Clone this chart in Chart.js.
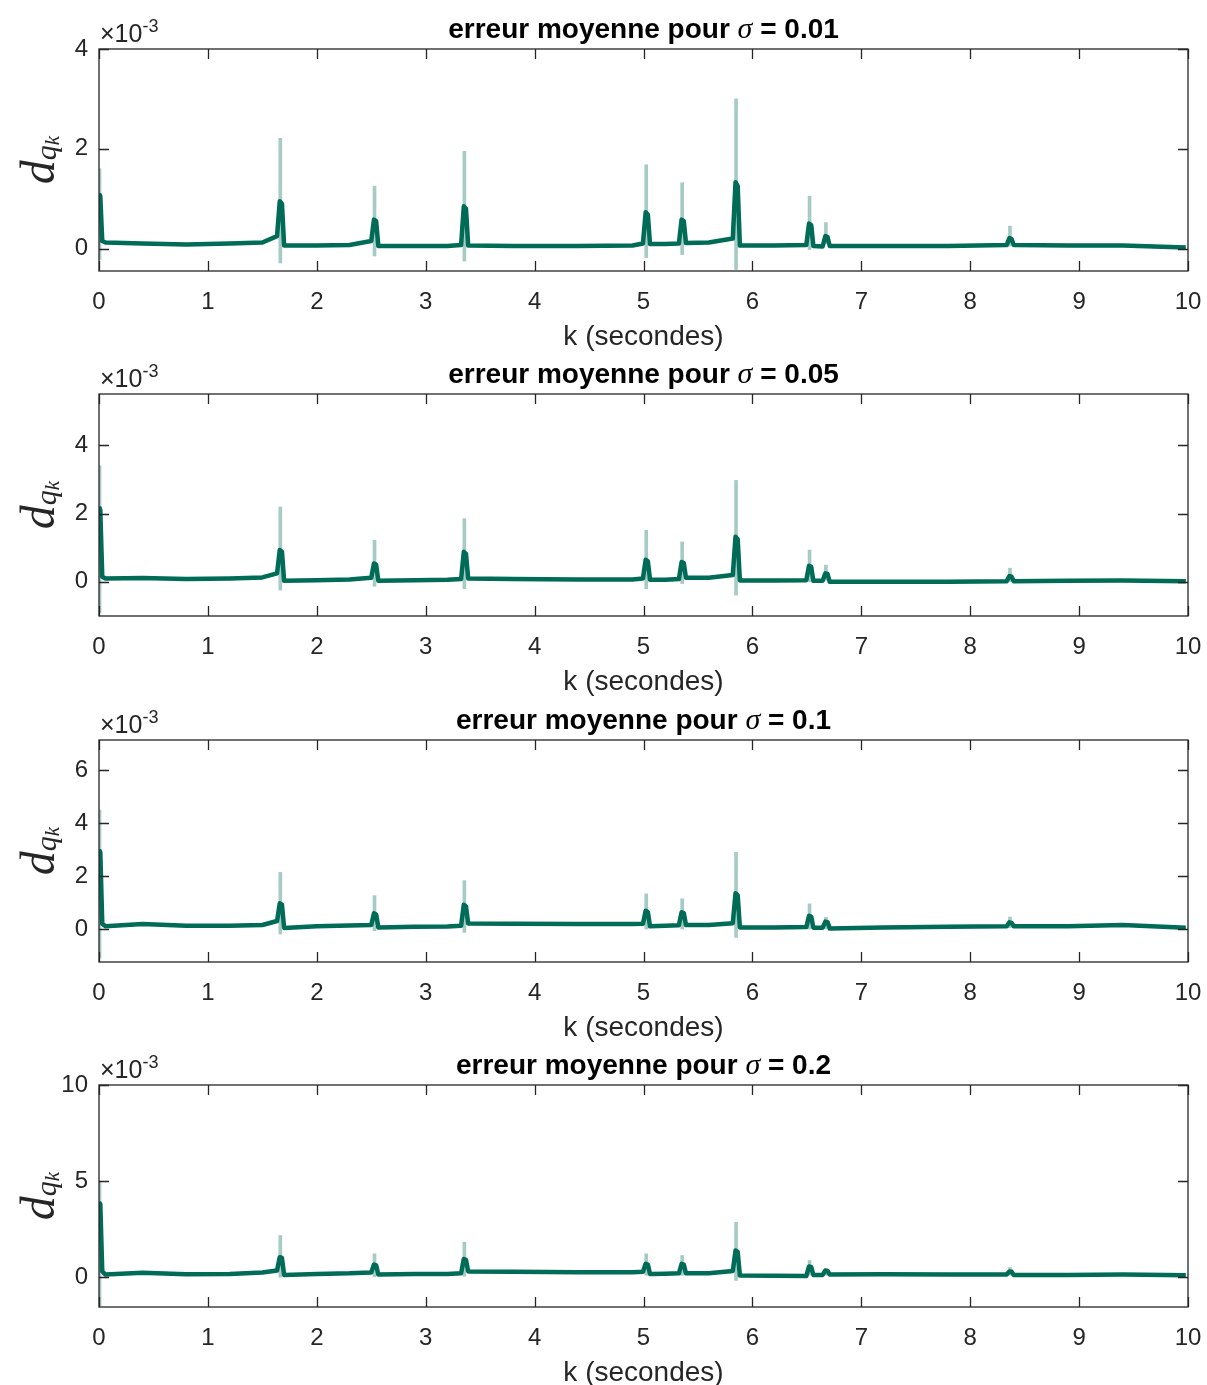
<!DOCTYPE html>
<html>
<head>
<meta charset="utf-8">
<script src="https://cdn.jsdelivr.net/npm/chart.js@4.4.1/dist/chart.umd.min.js"></script>
<style>
  html, body { margin: 0; padding: 0; background: #fff; }
  #page { position: relative; width: 1207px; height: 1385px; overflow: hidden; }
  .panel { position: absolute; left: 0; width: 1207px; }
  canvas { display: block; }
</style>
</head>
<body>
<div id="page">
  <div class="panel" style="top:0;height:362px"><canvas id="c0" width="1207" height="362"></canvas></div>
  <div class="panel" style="top:345px;height:362px"><canvas id="c1" width="1207" height="362"></canvas></div>
  <div class="panel" style="top:691px;height:362px"><canvas id="c2" width="1207" height="362"></canvas></div>
  <div class="panel" style="top:1036px;height:349px"><canvas id="c3" width="1207" height="349"></canvas></div>
</div>
<script>
// ── Data (all values in units of 1e-3) ──────────────────
var K = [0, 0.012, 0.03, 0.06, 0.4, 0.8, 1.2, 1.5,
         1.635, 1.66, 1.68, 1.70, 2.0, 2.3,
         2.50, 2.525, 2.545, 2.565, 2.9, 3.2,
         3.325, 3.35, 3.37, 3.39, 3.8, 4.4, 4.9,
         4.995, 5.02, 5.04, 5.06, 5.2,
         5.325, 5.35, 5.37, 5.39, 5.6,
         5.82, 5.845, 5.865, 5.885, 6.2,
         6.495, 6.52, 6.54, 6.56,
         6.645, 6.67, 6.69, 6.71, 7.2, 7.8,
         8.335, 8.36, 8.38, 8.40, 8.9, 9.4, 9.98];

var mean01 = [1.1, 1.05, 0.15, 0.12, 0.1, 0.08, 0.1, 0.12,
              0.25, 0.95, 0.9, 0.06, 0.06, 0.07,
              0.15, 0.58, 0.55, 0.05, 0.05, 0.05,
              0.07, 0.85, 0.8, 0.06, 0.05, 0.05, 0.06,
              0.1, 0.73, 0.68, 0.09, 0.09,
              0.1, 0.58, 0.55, 0.11, 0.12,
              0.2, 1.33, 1.25, 0.06, 0.06,
              0.07, 0.5, 0.47, 0.05,
              0.04, 0.25, 0.23, 0.05, 0.05, 0.05,
              0.07, 0.21, 0.19, 0.07, 0.06, 0.06, 0.02];

var mean05 = [2.2, 2.1, 0.15, 0.1, 0.11, 0.08, 0.1, 0.13,
              0.25, 0.93, 0.88, 0.03, 0.05, 0.07,
              0.12, 0.54, 0.5, 0.03, 0.05, 0.06,
              0.08, 0.88, 0.82, 0.1, 0.08, 0.07, 0.07,
              0.1, 0.65, 0.6, 0.06, 0.06,
              0.08, 0.58, 0.55, 0.12, 0.12,
              0.2, 1.32, 1.25, 0.04, 0.04,
              0.05, 0.47, 0.44, 0.03,
              0.03, 0.25, 0.23, 0.0, 0.0, 0.0,
              0.02, 0.17, 0.15, 0.02, 0.03, 0.04, 0.02];

var mean10 = [3.0, 2.9, 0.2, 0.1, 0.19, 0.12, 0.12, 0.15,
              0.3, 0.97, 0.92, 0.04, 0.1, 0.13,
              0.15, 0.59, 0.55, 0.06, 0.08, 0.09,
              0.12, 0.92, 0.85, 0.21, 0.2, 0.19, 0.19,
              0.2, 0.69, 0.64, 0.1, 0.12,
              0.14, 0.63, 0.6, 0.15, 0.15,
              0.22, 1.35, 1.28, 0.06, 0.06,
              0.07, 0.5, 0.47, 0.05,
              0.05, 0.28, 0.26, 0.02, 0.06, 0.08,
              0.1, 0.25, 0.23, 0.1, 0.1, 0.15, 0.05];

var mean20 = [3.9, 3.8, 0.3, 0.14, 0.23, 0.15, 0.17, 0.24,
              0.35, 1.04, 1.0, 0.12, 0.17, 0.2,
              0.25, 0.66, 0.62, 0.14, 0.17, 0.17,
              0.2, 0.95, 0.9, 0.3, 0.28, 0.26, 0.26,
              0.28, 0.7, 0.66, 0.17, 0.18,
              0.2, 0.7, 0.66, 0.2, 0.2,
              0.32, 1.39, 1.32, 0.09, 0.07,
              0.06, 0.56, 0.52, 0.12,
              0.12, 0.35, 0.32, 0.14, 0.16, 0.14,
              0.14, 0.3, 0.28, 0.12, 0.12, 0.14, 0.1];

// spread of the runs around each peak (min / max)
var spikeK = [0.005, 1.665, 2.53, 3.355, 5.025, 5.355, 5.85, 6.525, 6.675, 8.365];
var top01 = [1.6, 2.21, 1.25, 1.95, 1.68, 1.32, 3.0, 1.05, 0.52, 0.45];
var low01 = [-0.22, -0.29, -0.15, -0.25, -0.18, -0.12, -0.42, -0.02, 0.1, 0.05];
var top05 = [3.4, 2.19, 1.22, 1.85, 1.51, 1.17, 2.97, 0.93, 0.49, 0.4];
var low05 = [-0.9, -0.24, -0.13, -0.2, -0.2, -0.05, -0.39, 0.0, 0.05, 0.0];
var top10 = [4.5, 2.14, 1.26, 1.83, 1.33, 1.14, 2.9, 0.95, 0.44, 0.45];
var low10 = [-1.1, -0.19, -0.07, -0.13, 0.0, 0.0, -0.32, 0.0, 0.0, 0.05];
var top20 = [5.0, 2.17, 1.22, 1.82, 1.22, 1.13, 2.86, 0.87, 0.44, 0.5];
var low20 = [-1.5, 0.0, 0.02, 0.05, 0.1, 0.1, -0.17, 0.1, 0.1, 0.1];

var sigmaLabels = ['0.01', '0.05', '0.1', '0.2'];
var yMins  = [-0.45, -1, -1.25, -1.55];
var yMaxs  = [4, 5.5, 7.15, 10];
var ySteps = [2, 2, 2, 5];

var means = [mean01, mean05, mean10, mean20];
var tops  = [top01, top05, top10, top20];
var lows  = [low01, low05, low10, low20];

// ── Styles ──────────────────────────────────────────────
var TEAL = '#006b57';
var TEAL_LIGHT = 'rgba(0, 107, 87, 0.35)';
var AXIS = '#262626';
var SANS = '"Liberation Sans", Arial, sans-serif';
var SERIF = '"Liberation Serif", "Times New Roman", serif';
var PLOT_BOTTOM = 271;

Chart.defaults.font.family = SANS;

function decor(idx) {
    return {
        id: 'decor' + idx,
        afterDatasetsDraw: function (chart) {
            var ctx = chart.ctx, a = chart.chartArea;
            var xs = chart.scales.x, ys = chart.scales.y;
            var cx = (a.left + a.right) / 2, cy = (a.top + a.bottom) / 2;
            ctx.save();

            // box + inward ticks on all four sides
            ctx.strokeStyle = AXIS;
            ctx.lineWidth = 1.3;
            ctx.strokeRect(a.left, a.top, a.right - a.left, a.bottom - a.top);
            ctx.beginPath();
            xs.ticks.forEach(function (t) {
                var px = Math.round(xs.getPixelForValue(t.value)) + 0.5;
                ctx.moveTo(px, a.bottom); ctx.lineTo(px, a.bottom - 10);
                ctx.moveTo(px, a.top);    ctx.lineTo(px, a.top + 10);
            });
            ys.ticks.forEach(function (t) {
                var py = Math.round(ys.getPixelForValue(t.value)) + 0.5;
                ctx.moveTo(a.left, py);  ctx.lineTo(a.left + 10, py);
                ctx.moveTo(a.right, py); ctx.lineTo(a.right - 10, py);
            });
            ctx.stroke();

            // title: erreur moyenne pour σ = …
            var parts = [
                { t: 'erreur moyenne pour ', f: 'bold 28px ' + SANS },
                { t: 'σ', f: 'italic 30px ' + SERIF },
                { t: ' = ' + sigmaLabels[idx], f: 'bold 28px ' + SANS }
            ];
            var total = 0;
            parts.forEach(function (p) { ctx.font = p.f; p.w = ctx.measureText(p.t).width; total += p.w; });
            var x = cx - total / 2;
            ctx.fillStyle = '#000';
            ctx.textBaseline = 'alphabetic';
            ctx.textAlign = 'left';
            parts.forEach(function (p) { ctx.font = p.f; ctx.fillText(p.t, x, a.top - 11); x += p.w; });

            // x axis title
            ctx.fillStyle = AXIS;
            ctx.font = '28px ' + SANS;
            ctx.textAlign = 'center';
            ctx.textBaseline = 'middle';
            ctx.fillText('k (secondes)', cx, a.bottom + 66);

            // exponent ×10^-3
            ctx.textAlign = 'left';
            ctx.textBaseline = 'alphabetic';
            ctx.font = '25px ' + SANS;
            ctx.fillText('\u00d710', a.left + 1, a.top - 7);
            var w10 = ctx.measureText('\u00d710').width;
            ctx.font = '18px ' + SANS;
            ctx.fillText('-3', a.left + 1 + w10, a.top - 17);

            // y axis title d_{q_k}
            ctx.translate(54, cy);
            ctx.rotate(-Math.PI / 2);
            var ylab = [
                { t: 'd', f: 'italic 48px ' + SERIF, dy: 0 },
                { t: 'q', f: 'italic 30px ' + SERIF, dy: 2 },
                { t: 'k', f: 'italic 21px ' + SERIF, dy: 5 }
            ];
            var tw = 0;
            ylab.forEach(function (p) { ctx.font = p.f; p.w = ctx.measureText(p.t).width; tw += p.w; });
            var lx = -tw / 2;
            ylab.forEach(function (p) { ctx.font = p.f; ctx.fillText(p.t, lx, p.dy); lx += p.w; });

            ctx.restore();
        }
    };
}

function makePanel(idx) {
    var canvas = document.getElementById('c' + idx);
    var H = canvas.height;
    var lineData = K.map(function (k, i) { return { x: k, y: means[idx][i] }; });
    var spreadData = spikeK.map(function (k, i) { return { x: k, y: [lows[idx][i], tops[idx][i]] }; });

    new Chart(canvas, {
        type: 'line',
        data: {
            datasets: [
                { type: 'bar', data: spreadData, backgroundColor: TEAL_LIGHT, barThickness: 3, order: 2 },
                { type: 'line', data: lineData, borderColor: TEAL, borderWidth: 4.5, pointRadius: 0,
                  tension: 0, borderJoinStyle: 'round', order: 1 }
            ]
        },
        options: {
            responsive: false,
            animation: false,
            layout: { padding: { top: 49, right: 19, left: 0, bottom: 0 } },
            plugins: { legend: { display: false }, tooltip: { enabled: false } },
            scales: {
                x: {
                    type: 'linear', min: 0, max: 10, offset: false,
                    grid: { display: false }, border: { display: false },
                    ticks: { stepSize: 1, padding: 9, color: AXIS, font: { size: 24 }, maxRotation: 0, autoSkip: false },
                    afterFit: function (s) { s.height = H - PLOT_BOTTOM; s.paddingLeft = 0; s.paddingRight = 0; }
                },
                y: {
                    min: yMins[idx], max: yMaxs[idx],
                    grid: { display: false }, border: { display: false },
                    ticks: { stepSize: ySteps[idx], includeBounds: false, padding: 3, color: AXIS, font: { size: 24 } },
                    afterFit: function (s) { s.width = 99; s.paddingTop = 0; s.paddingBottom = 0; }
                }
            }
        },
        plugins: [decor(idx)]
    });
}

[0, 1, 2, 3].forEach(makePanel);
</script>
</body>
</html>
